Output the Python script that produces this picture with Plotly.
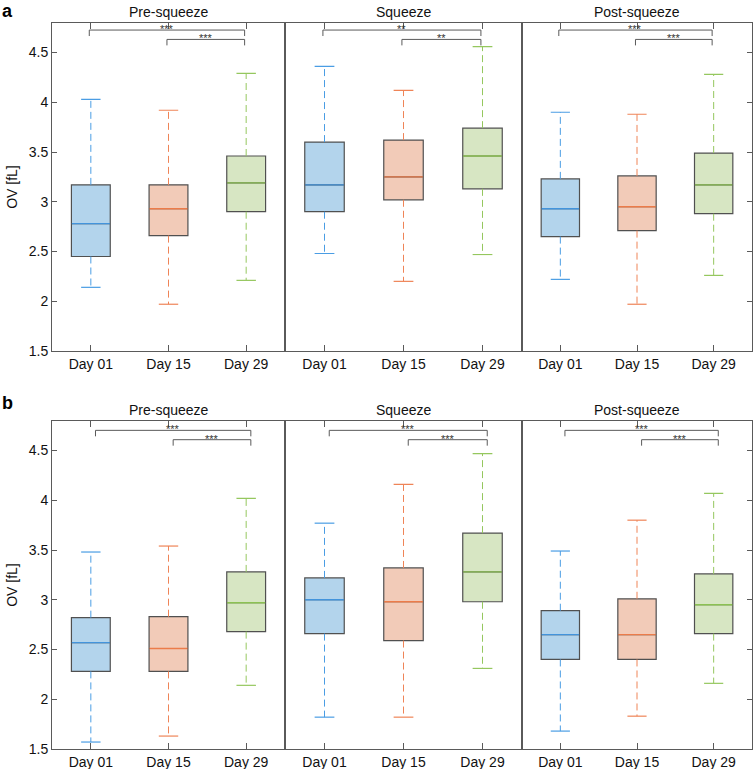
import plotly.graph_objects as go
from plotly.subplots import make_subplots

days = ["Day 01", "Day 15", "Day 29"]
phases = ["Pre-squeeze", "Squeeze", "Post-squeeze"]
panel_labels = ["a", "b"]

# Row a: per phase, values for Day 01, Day 15, Day 29
a_upper = [[4.03, 3.92, 4.29], [4.36, 4.12, 4.56], [3.90, 3.88, 4.28]]
a_q3 = [[3.17, 3.17, 3.46], [3.60, 3.62, 3.74], [3.23, 3.26, 3.49]]
a_median = [[2.78, 2.93, 3.19], [3.17, 3.25, 3.46], [2.93, 2.95, 3.17]]
a_q1 = [[2.45, 2.66, 2.90], [2.90, 3.02, 3.13], [2.65, 2.71, 2.88]]
a_lower = [[2.14, 1.97, 2.21], [2.48, 2.20, 2.47], [2.22, 1.97, 2.26]]
a_sig = [["***", "***"], ["**", "**"], ["***", "***"]]

# Row b
b_upper = [[3.48, 3.54, 4.02], [3.77, 4.16, 4.47], [3.49, 3.80, 4.07]]
b_q3 = [[2.82, 2.83, 3.28], [3.22, 3.32, 3.67], [2.89, 3.01, 3.26]]
b_median = [[2.57, 2.51, 2.97], [3.00, 2.98, 3.28], [2.65, 2.65, 2.95]]
b_q1 = [[2.28, 2.28, 2.68], [2.66, 2.59, 2.98], [2.40, 2.40, 2.66]]
b_lower = [[1.57, 1.63, 2.14], [1.82, 1.82, 2.31], [1.68, 1.83, 2.16]]
b_sig = [["***", "***"], ["***", "***"], ["***", "***"]]

y_ticks = [1.5, 2, 2.5, 3, 3.5, 4, 4.5]
y_tick_text = ["1.5", "2", "2.5", "3", "3.5", "4", "4.5"]

rows = [
    dict(upper=a_upper, q3=a_q3, med=a_median, q1=a_q1, lower=a_lower, sig=a_sig,
         long_y=4.726, short_y=4.632, dx=-0.02),
    dict(upper=b_upper, q3=b_q3, med=b_median, q1=b_q1, lower=b_lower, sig=b_sig,
         long_y=4.703, short_y=4.609, dx=0.06),
]

line_cols = ["#4394DC", "#EC7C4A", "#8CC153"]
whisk_cols = ["#4A9DE4", "#EF8457", "#95C75E"]
fill_cols = ["#B3D4EC", "#F2CBB8", "#D7E6C3"]
edge = "#505050"
axcol = "#5a5a5a"
FONT = "Liberation Sans, Arial, Helvetica, sans-serif"

W, H = 753, 769
x_edges = [52, 285, 522, 752]
row_pix = [(22.7, 351.0), (420.7, 749.0)]
label_pix = [11.0, 403.0]

fig = make_subplots(rows=2, cols=3, horizontal_spacing=0, vertical_spacing=0.05)

annotations = []
for r, rd in enumerate(rows):
    for c in range(3):
        for k in range(3):
            pos = k + 1
            up, q3, md, q1, lo = (rd["upper"][c][k], rd["q3"][c][k], rd["med"][c][k],
                                  rd["q1"][c][k], rd["lower"][c][k])
            fig.add_trace(go.Scatter(
                x=[pos, pos, None, pos, pos], y=[q3, up, None, q1, lo], mode="lines",
                line=dict(color=whisk_cols[k], width=1, dash="7px,4px"),
                showlegend=False, hoverinfo="skip"), row=r + 1, col=c + 1)
            fig.add_trace(go.Scatter(
                x=[pos - 0.125, pos + 0.125, None, pos - 0.125, pos + 0.125],
                y=[up, up, None, lo, lo], mode="lines",
                line=dict(color=whisk_cols[k], width=1.2),
                showlegend=False, hoverinfo="skip"), row=r + 1, col=c + 1)
            fig.add_trace(go.Box(
                x=[pos], q1=[q1], median=[md], q3=[q3], lowerfence=[q1], upperfence=[q3],
                width=0.5, fillcolor=fill_cols[k], line=dict(color=edge, width=1.2),
                showlegend=False, hoverinfo="skip", boxpoints=False), row=r + 1, col=c + 1)
            fig.add_trace(go.Scatter(
                x=[pos - 0.245, pos + 0.245], y=[md, md], mode="lines",
                line=dict(color=line_cols[k], width=1.3),
                showlegend=False, hoverinfo="skip"), row=r + 1, col=c + 1)
        # brackets
        dx = rd["dx"]
        drop = 0.06
        ly, sy = rd["long_y"], rd["short_y"]
        fig.add_trace(go.Scatter(
            x=[1 + dx, 1 + dx, 3 + dx, 3 + dx], y=[ly - drop, ly, ly, ly - drop], mode="lines",
            line=dict(color=axcol, width=1), showlegend=False, hoverinfo="skip"),
            row=r + 1, col=c + 1)
        fig.add_trace(go.Scatter(
            x=[2 + dx, 2 + dx, 3 + dx, 3 + dx], y=[sy - drop, sy, sy, sy - drop], mode="lines",
            line=dict(color=axcol, width=1), showlegend=False, hoverinfo="skip"),
            row=r + 1, col=c + 1)
        idx = r * 3 + c + 1
        xr = "x" if idx == 1 else f"x{idx}"
        yr = "y" if idx == 1 else f"y{idx}"
        for (xm, yy, s) in [(2 + dx, ly, rd["sig"][c][0]), (2.5 + dx, sy, rd["sig"][c][1])]:
            annotations.append(dict(x=xm, y=yy, xref=xr, yref=yr, text=s, showarrow=False,
                                    xanchor="center", yanchor="middle", yshift=1,
                                    font=dict(family=FONT, size=11, color="#333333")))

        # axes
        x0, x1 = x_edges[c] / W, x_edges[c + 1] / W
        ytop, ybot = row_pix[r]
        d0, d1 = (H - ybot) / H, (H - ytop) / H
        fig.update_xaxes(domain=[x0, x1], range=[0.5, 3.5], tickvals=[1, 2, 3], ticktext=days,
                         ticks="inside", ticklen=6, tickcolor=axcol, showline=True,
                         linecolor=axcol, linewidth=1, mirror="ticks", showgrid=False,
                         zeroline=False, automargin=False,
                         tickfont=dict(family=FONT, size=14, color="#111"),
                         row=r + 1, col=c + 1)
        yargs = dict(domain=[d0, d1], range=[1.5, 4.8], tickvals=y_ticks, ticktext=y_tick_text,
                     showline=True, linecolor=axcol, linewidth=1, mirror=True, showgrid=False,
                     zeroline=False, automargin=False,
                     tickfont=dict(family=FONT, size=14, color="#111"))
        if c == 0:
            yargs.update(ticks="inside", ticklen=5, tickcolor=axcol, showticklabels=True)
        elif c == 1:
            yargs.update(ticks="", showticklabels=False)
        else:
            yargs.update(ticks="inside", ticklen=5, tickcolor=axcol, showticklabels=False,
                         side="right")
        fig.update_yaxes(**yargs, row=r + 1, col=c + 1)

        annotations.append(dict(x=(x0 + x1) / 2, y=d1, xref="paper", yref="paper",
                                text=phases[c], showarrow=False, xanchor="center",
                                yanchor="bottom", yshift=1,
                                font=dict(family=FONT, size=14, color="#111")))
    annotations.append(dict(x=12 / W, y=(H - (ytop + ybot) / 2) / H, xref="paper", yref="paper",
                            text="OV [fL]", textangle=-90, showarrow=False,
                            xanchor="center", yanchor="middle",
                            font=dict(family=FONT, size=14, color="#111")))
    annotations.append(dict(x=1 / W, y=(H - label_pix[r]) / H, xref="paper", yref="paper",
                            text="<b>" + panel_labels[r] + "</b>", showarrow=False,
                            xanchor="left", yanchor="middle", borderpad=0,
                            font=dict(family=FONT, size=18, color="#000")))

fig.update_layout(width=W, height=H, margin=dict(l=0, r=0, t=0, b=0),
                  plot_bgcolor="white", paper_bgcolor="white", annotations=annotations,
                  font=dict(family=FONT))
fig.write_html("out.html", config={"displayModeBar": False},
               post_script="document.body.style.margin='0';document.body.style.padding='0';"
                           "document.body.style.overflow='hidden';")
